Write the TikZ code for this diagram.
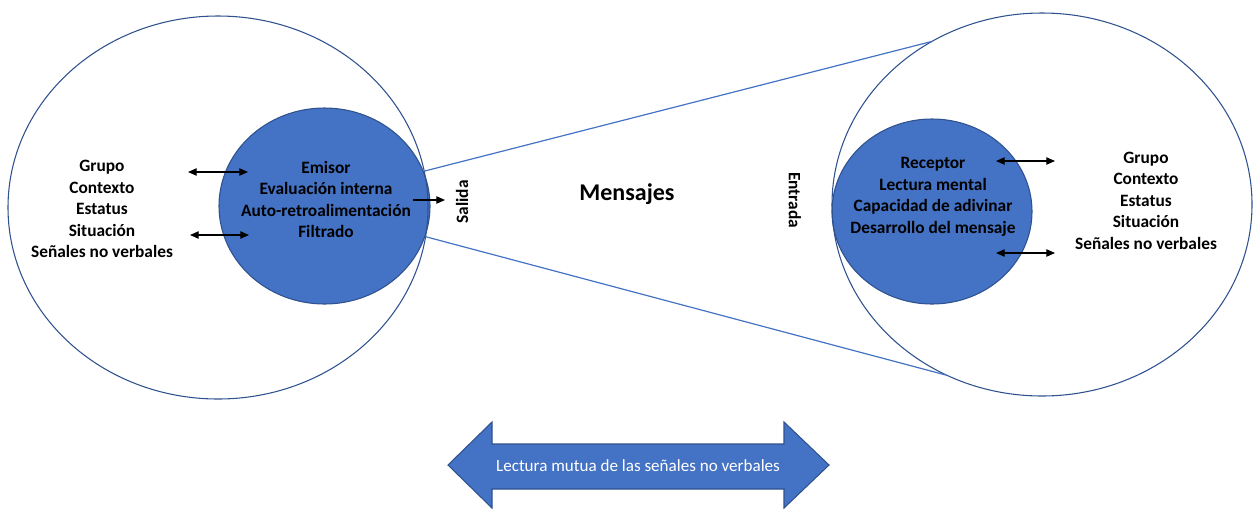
\documentclass[tikz,border=0pt]{standalone}
\usepackage{fontspec}
\setmainfont{Carlito}
\usetikzlibrary{shapes.geometric,arrows.meta}
\definecolor{fillblue}{HTML}{4472C4}
\definecolor{edgeblue}{HTML}{2F528F}
\begin{document}
\begin{tikzpicture}[x=0.75pt,y=-0.75pt,
  outer/.style={ellipse,draw=edgeblue,line width=0.8pt,inner sep=0pt,outer sep=0pt},
  inner/.style={ellipse,draw=edgeblue,fill=fillblue,line width=0.8pt,inner sep=0pt,outer sep=0pt},
  lbl/.style={font=\bfseries\fontsize{13}{16.1}\selectfont,align=center,inner sep=0pt},
  link/.style={draw=fillblue,line width=0.9pt},
  tip/.tip={Triangle[length=6.5pt,width=5.5pt]},
  dbl/.style={tip-tip,line width=0.9pt},
  sgl/.style={-tip,line width=0.9pt},
  bigarrow/.style={fill=fillblue,draw=edgeblue,line width=0.8pt},
]
\useasboundingbox (0,0) rectangle (1255,508);

% inner ellipses
\node[inner,minimum width={211*0.75pt},minimum height={196*0.75pt}] (Lin) at (324.5,206) {};
\node[inner,minimum width={200*0.75pt},minimum height={185*0.75pt}] (Rin) at (932,211.5) {};

% outer ellipses
\node[outer,minimum width={420*0.75pt},minimum height={383*0.75pt}] (Lout) at (218,207.5) {};
\node[outer,minimum width={420*0.75pt},minimum height={383*0.75pt}] (Rout) at (1042,204.5) {};

% connecting lines
\draw[link] (Lout.10.8) -- (Rout.124.6);
\draw[link] (Lout.-8.6) -- (Rout.241);

% texts
\node[lbl] (Ltxt) at (102,209) {Grupo\\Contexto\\Estatus\\Situación\\Señales no verbales};
\node[lbl] (Emisor) at (326,199.5) {Emisor\\Evaluación interna\\Auto-retroalimentación\\Filtrado};
\node[lbl] (Receptor) at (933,197) {Receptor\\Lectura mental\\Capacidad de adivinar\\Desarrollo del mensaje};
\node[lbl] (Rtxt) at (1146,200.5) {Grupo\\Contexto\\Estatus\\Situación\\Señales no verbales};
\node[lbl,rotate=90] (Salida) at (462,202) {Salida};
\node[lbl,rotate=-90] (Entrada) at (795,200) {Entrada};
\node[font=\bfseries\fontsize{18}{20}\selectfont,inner sep=0pt] (Mensajes) at (627,194) {Mensajes};

% small arrows
\coordinate (a1) at (188,172); \coordinate (a2) at (248,172);
\coordinate (b1) at (190,235); \coordinate (b2) at (249,235);
\coordinate (s1) at (413,200); \coordinate (s2) at (445,200);
\coordinate (c1) at (996,161); \coordinate (c2) at (1055,161);
\coordinate (d1) at (996,253); \coordinate (d2) at (1055,253);
\draw[dbl] (a1) -- (a2);
\draw[dbl] (b1) -- (b2);
\draw[sgl] (s1) -- (s2);
\draw[dbl] (c1) -- (c2);
\draw[dbl] (d1) -- (d2);

% bottom double arrow
\draw[bigarrow] (448,465) -- (492,422) -- (492,444) -- (784,444) -- (784,422)
  -- (829,465) -- (784,508) -- (784,489) -- (492,489) -- (492,508) -- cycle;
\node[text=white,font=\fontsize{12.8}{15}\selectfont,inner sep=0pt] (mutua) at (638,466)
  {Lectura mutua de las señales no verbales};
\end{tikzpicture}
\end{document}
